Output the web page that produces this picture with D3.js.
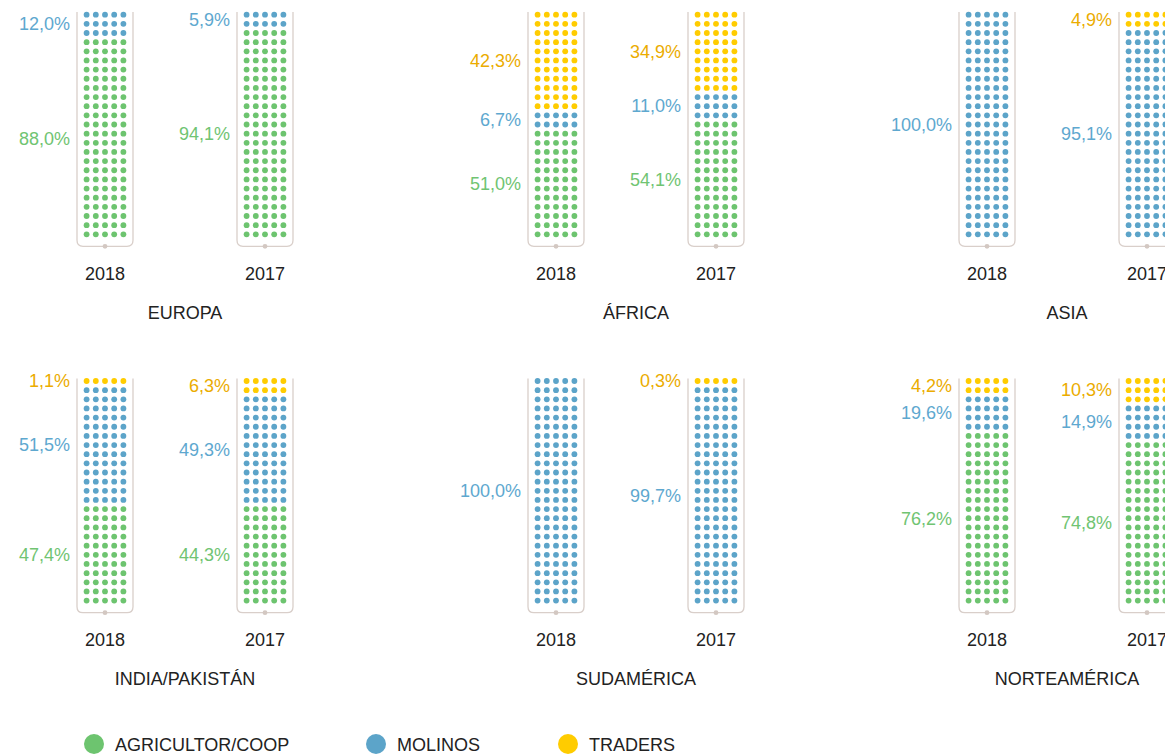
<!DOCTYPE html>
<html>
<head>
<meta charset="utf-8">
<script src="https://cdn.jsdelivr.net/npm/d3@7"></script>
<style>
  body { margin: 0; background: #fff; overflow: hidden; }
  text { font-family: "Liberation Sans", Arial, Helvetica, sans-serif; }
</style>
</head>
<body>
<script>
// data (percent of volume by buyer type)
var regions = ["EUROPA", "ÁFRICA", "ASIA", "INDIA/PAKISTÁN", "SUDAMÉRICA", "NORTEAMÉRICA"];
var years = ["2018", "2017"];
var agricultor = [[88.0, 94.1], [51.0, 54.1], [0, 0], [47.4, 44.3], [0, 0], [76.2, 74.8]];
var molinos = [[12.0, 5.9], [6.7, 11.0], [100.0, 95.1], [51.5, 49.3], [100.0, 99.7], [19.6, 14.9]];
var traders = [[0, 0], [42.3, 34.9], [0, 4.9], [1.1, 6.3], [0, 0.3], [4.2, 10.3]];
var seriesNames = ["AGRICULTOR/COOP", "MOLINOS", "TRADERS"];

var dotColor = ["#6dc46f", "#5ca4c9", "#ffcc00"];
var textColor = ["#70c472", "#5ea8cf", "#ebac00"];

var width = 1165, height = 754;
var nRows = 25, nCols = 5, pitchY = 9.15, pitchX = 9.2;
var panelX = [105, 556, 987];     // centre of the 2018 column in each panel column
var yearGap = 160;
var rowTop = [10.1, 376.4];

var svg = d3.select("body").append("svg")
    .attr("width", width)
    .attr("height", height);

var fmt = function (v) { return d3.format(".1f")(v).replace(".", ",") + "%"; };

regions.forEach(function (name, i) {
    var col = i % 3, row = Math.floor(i / 3);
    var top = rowTop[row];
    var g = svg.append("g");

    var yRow = d3.scaleBand().domain(d3.range(nRows)).range([top, top + nRows * pitchY]);

    years.forEach(function (yr, k) {
        var cx = panelX[col] + k * yearGap;
        var xCol = d3.scaleBand().domain(d3.range(nCols))
            .range([cx - nCols * pitchX / 2, cx + nCols * pitchX / 2]);

        var vals = [agricultor[i][k], molinos[i][k], traders[i][k]];
        // rows per series: cumulative floor from the bottom
        var cum = 0, prevRows = 0, segs = [];
        vals.forEach(function (v, s) {
            cum += v;
            var r = s === 2 ? nRows : Math.floor(cum * nRows / 100 + 1e-9);
            segs.push({s: s, v: v, from: prevRows, to: r});
            prevRows = r;
        });

        var cells = [];
        segs.forEach(function (sg) {
            for (var r = sg.from; r < sg.to; r++) {
                for (var c = 0; c < nCols; c++) cells.push({s: sg.s, r: nRows - 1 - r, c: c});
            }
        });

        // frame
        var x0 = cx - 28, x1 = cx + 28, yb = top + nRows * pitchY + 7.5, rr = 6;
        g.append("path")
            .attr("d", "M" + x0 + "," + (top + 2) + "V" + (yb - rr) +
                "Q" + x0 + "," + yb + " " + (x0 + rr) + "," + yb +
                "H" + (x1 - rr) + "Q" + x1 + "," + yb + " " + x1 + "," + (yb - rr) +
                "V" + (top + 2))
            .attr("fill", "none")
            .attr("stroke", "#d9cfca")
            .attr("stroke-width", 1.3);
        g.append("circle")
            .attr("cx", cx).attr("cy", yb).attr("r", 2.4)
            .attr("fill", "#d3c8c2");

        g.selectAll(null)
            .data(cells)
            .enter()
            .append("circle")
            .attr("cx", d => xCol(d.c) + xCol.bandwidth() / 2)
            .attr("cy", d => yRow(d.r) + yRow.bandwidth() / 2)
            .attr("r", 2.9)
            .attr("fill", d => dotColor[d.s]);

        // percentage labels
        segs.filter(d => d.v > 0 && d.to > d.from).forEach(function (sg) {
            var rTop = nRows - sg.to, rBot = nRows - 1 - sg.from;
            var ym = (yRow(rTop) + yRow(rBot)) / 2 + yRow.bandwidth() / 2;
            g.append("text")
                .attr("x", cx - 35)
                .attr("y", ym)
                .attr("dy", "0.35em")
                .attr("text-anchor", "end")
                .attr("font-size", 18)
                .attr("fill", textColor[sg.s])
                .text(fmt(sg.v));
        });

        g.append("text")
            .attr("x", cx)
            .attr("y", top + 270)
            .attr("text-anchor", "middle")
            .attr("font-size", 18)
            .attr("fill", "#222")
            .text(yr);
    });

    g.append("text")
        .attr("x", panelX[col] + yearGap / 2)
        .attr("y", top + 308.5)
        .attr("text-anchor", "middle")
        .attr("font-size", 18)
        .attr("fill", "#222")
        .text(name);
});

// legend
var legendX = [94, 376, 568];
var legend = svg.append("g");
seriesNames.forEach(function (s, i) {
    legend.append("circle")
        .attr("cx", legendX[i]).attr("cy", 744).attr("r", 10)
        .attr("fill", dotColor[i]);
    legend.append("text")
        .attr("x", legendX[i] + 21)
        .attr("y", 750.5)
        .attr("font-size", 18)
        .attr("fill", "#222")
        .text(s);
});
</script>
</body>
</html>
